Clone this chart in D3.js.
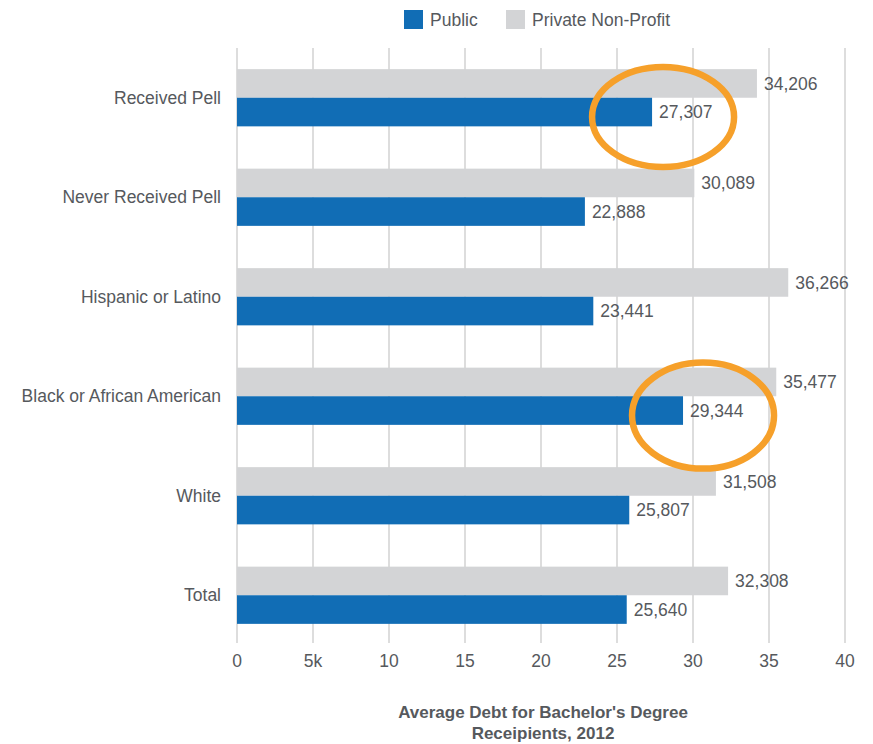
<!DOCTYPE html>
<html>
<head>
<meta charset="utf-8">
<script src="https://cdn.jsdelivr.net/npm/d3@7"></script>
<style>
  html, body { margin: 0; padding: 0; background: #fff; }
  svg text { font-family: "Liberation Sans", Arial, Helvetica, sans-serif; fill: #56595d; }
</style>
</head>
<body>
<svg id="chart" width="873" height="744"></svg>
<script>
// Average debt for bachelor's degree recipients, 2012
const categories = ["Received Pell", "Never Received Pell", "Hispanic or Latino",
                    "Black or African American", "White", "Total"];
const privateNonProfit = [34206, 30089, 36266, 35477, 31508, 32308];
const publicValues     = [27307, 22888, 23441, 29344, 25807, 25640];
const seriesNames = ["Public", "Private Non-Profit"];
const tickValues = [0, 5000, 10000, 15000, 20000, 25000, 30000, 35000, 40000];
const tickLabels = ["0", "5k", "10", "15", "20", "25", "30", "35", "40"];
const titleLines = ["Average Debt for Bachelor's Degree", "Receipients, 2012"];
// categories circled for emphasis
const highlighted = ["Received Pell", "Black or African American"];

const colors = { "Public": "#116db5", "Private Non-Profit": "#d3d4d6" };
const svg = d3.select("#chart");

const plot = { left: 237, right: 845, top: 48, bottom: 645 };
const fs = 17.5;

const x = d3.scaleLinear().domain([0, 40000]).range([plot.left, plot.right]);
const y = d3.scaleBand().domain(categories)
  .range([plot.top, plot.bottom]).paddingInner(0.425).paddingOuter(0.2125);
const sub = d3.scaleBand().domain(["Private Non-Profit", "Public"])
  .range([0, y.bandwidth()]);

const rows = categories.map((c, i) => ({
  category: c,
  values: [
    { series: "Private Non-Profit", value: privateNonProfit[i] },
    { series: "Public", value: publicValues[i] }
  ]
}));

// vertical gridlines
svg.append("g").selectAll("line").data(tickValues).join("line")
  .attr("x1", d => x(d)).attr("x2", d => x(d))
  .attr("y1", plot.top).attr("y2", plot.bottom - 2)
  .attr("stroke", "#d2d2d2").attr("stroke-width", 1.5);

// tick labels
svg.append("g").selectAll("text").data(tickValues).join("text")
  .attr("x", d => x(d)).attr("y", 667)
  .attr("text-anchor", "middle").attr("font-size", fs)
  .text((d, i) => tickLabels[i]);

// bars
const groups = svg.append("g").selectAll("g").data(rows).join("g")
  .attr("transform", d => `translate(0,${y(d.category)})`);

groups.selectAll("rect").data(d => d.values).join("rect")
  .attr("x", x(0))
  .attr("y", d => sub(d.series))
  .attr("width", d => x(d.value) - x(0))
  .attr("height", sub.bandwidth())
  .attr("fill", d => colors[d.series]);

groups.selectAll("text.val").data(d => d.values).join("text")
  .attr("class", "val")
  .attr("x", d => x(d.value) + 7)
  .attr("y", d => sub(d.series) + sub.bandwidth() / 2)
  .attr("dy", "0.35em")
  .attr("font-size", fs)
  .text(d => d3.format(",")(d.value));

// category labels
svg.append("g").selectAll("text").data(categories).join("text")
  .attr("x", 221)
  .attr("y", d => y(d) + y.bandwidth() / 2)
  .attr("dy", "0.35em")
  .attr("text-anchor", "end").attr("font-size", 17.5)
  .text(d => d);

// emphasis ellipses around the public value of highlighted rows
const annot = svg.append("g");
highlighted.forEach((c, k) => {
  const i = categories.indexOf(c);
  const v = publicValues[i];
  const cy = y(c) + sub("Public") + sub.bandwidth() / 2 + 5;
  const cx = x(v) + (k === 0 ? 11 : 20);
  annot.append("ellipse")
    .attr("cx", cx).attr("cy", cy)
    .attr("rx", 71).attr("ry", k === 0 ? 50 : 53)
    .attr("fill", "none").attr("stroke", "#f6a02a").attr("stroke-width", 6.5);
});

// legend
const legend = svg.append("g");
const legendX = [404, 506];
seriesNames.forEach((s, i) => {
  legend.append("rect").attr("x", legendX[i]).attr("y", 10)
    .attr("width", 19).attr("height", 19).attr("fill", colors[s]);
  legend.append("text").attr("x", legendX[i] + 26).attr("y", 26)
    .attr("font-size", fs).text(s);
});

// axis title
svg.append("text").attr("x", 543).attr("y", 718)
  .attr("text-anchor", "middle").attr("font-size", 17).attr("font-weight", "bold")
  .selectAll("tspan").data(titleLines).join("tspan")
  .attr("x", 543).attr("dy", (d, i) => i === 0 ? 0 : 21)
  .text(d => d);
</script>
</body>
</html>
